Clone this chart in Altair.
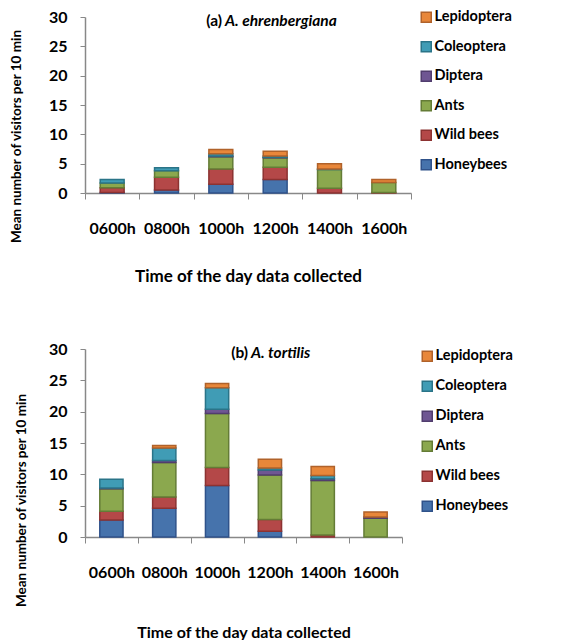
import altair as alt
import pandas as pd

times = ["0600h", "0800h", "1000h", "1200h", "1400h", "1600h"]
groups = ["Honeybees", "Wild bees", "Ants", "Diptera", "Coleoptera", "Lepidoptera"]

# Panel (a) A. ehrenbergiana
a_honeybees = [0.1, 0.5, 1.5, 2.3, 0.0, 0.0]
a_wildbees = [0.8, 2.2, 2.6, 2.1, 0.8, 0.1]
a_ants = [0.8, 1.1, 2.1, 1.6, 3.2, 1.7]
a_diptera = [0.0, 0.0, 0.1, 0.1, 0.0, 0.0]
a_coleoptera = [0.6, 0.5, 0.4, 0.2, 0.1, 0.0]
a_lepidoptera = [0.0, 0.0, 0.7, 0.8, 0.9, 0.5]

# Panel (b) A. tortilis
b_honeybees = [2.7, 4.6, 8.2, 0.9, 0.0, 0.0]
b_wildbees = [1.4, 1.8, 2.9, 1.9, 0.3, 0.0]
b_ants = [3.6, 5.5, 8.6, 7.1, 8.7, 3.0]
b_diptera = [0.1, 0.3, 0.7, 0.8, 0.3, 0.2]
b_coleoptera = [1.4, 2.0, 3.4, 0.3, 0.5, 0.0]
b_lepidoptera = [0.0, 0.4, 0.7, 1.4, 1.45, 0.8]

fills = ["#4673AC", "#B44848", "#8BA84E", "#6F5693", "#409CB5", "#E8873A"]
strokes = ["#2F528A", "#8C3231", "#647C36", "#513D6E", "#2A7488", "#B0622A"]

FONT = "Lato"


def make_df(series):
    rows = []
    for gi, (g, vals) in enumerate(zip(groups, series)):
        for t, v in zip(times, vals):
            if v > 0:
                rows.append({"Time": t, "Group": g, "Value": v, "Order": gi})
    return pd.DataFrame(rows)


def panel(series, label, species, width, height, split_x, title_x, title_y,
          title_pad, title_size, legend_x, legend_y, row_pad):
    df = make_df(series)
    legend_domain = list(reversed(groups))
    bars = alt.Chart(df).mark_bar(
        width=alt.RelativeBandSize(0.44), strokeWidth=1.5
    ).encode(
        x=alt.X("Time:N", sort=times,
                scale=alt.Scale(paddingInner=0, paddingOuter=0),
                axis=alt.Axis(tickBand="extent", tickSize=6, labelAngle=0,
                              labelPadding=21, labelFontSize=16,
                              labelFontWeight="bold", labelColor="#000",
                              title="Time of the day data collected",
                              titleFontSize=title_size, titleFontWeight="bold",
                              titlePadding=title_pad)),
        y=alt.Y("sum(Value):Q", stack="zero",
                scale=alt.Scale(domain=[0, 30], nice=False),
                axis=alt.Axis(values=[0, 5, 10, 15, 20, 25, 30], tickSize=5,
                              labelFontSize=16, labelFontWeight="bold",
                              labelColor="#000", labelPadding=13,
                              title="Mean number of visitors per 10 min",
                              titleFontSize=13.5, titleFontWeight="bold",
                              titleX=title_x, titleY=title_y)),
        color=alt.Color("Group:N",
                        scale=alt.Scale(domain=groups, range=fills),
                        sort=legend_domain,
                        legend=alt.Legend(orient="none", legendX=legend_x,
                                          legendY=legend_y, title=None,
                                          symbolType="square", symbolSize=100,
                                          symbolStrokeWidth=1.5,
                                          labelFontSize=14.5,
                                          labelFontWeight="bold",
                                          labelColor="#000",
                                          rowPadding=row_pad, padding=0,
                                          labelOffset=1,
                                          values=legend_domain)),
        stroke=alt.Stroke("Group:N",
                          scale=alt.Scale(domain=groups, range=strokes),
                          legend=None),
        order=alt.Order("Order:Q", sort="ascending"),
    )
    t1 = alt.Chart(alt.Data(values=[{}])).mark_text(
        text=label, align="right", baseline="middle", font=FONT,
        fontSize=15.5, fontWeight="bold", color="#000"
    ).encode(x=alt.value(split_x), y=alt.value(4))
    t2 = alt.Chart(alt.Data(values=[{}])).mark_text(
        text=species, align="left", baseline="middle", font=FONT,
        fontSize=15.5, fontWeight="bold", fontStyle="italic", color="#000"
    ).encode(x=alt.value(split_x + 3), y=alt.value(4))
    return alt.layer(bars, t1, t2).properties(width=width, height=height)


pa = panel([a_honeybees, a_wildbees, a_ants, a_diptera, a_coleoptera, a_lepidoptera],
           "(a)", "A. ehrenbergiana", 326, 176, 137, -62, 119, 32, 17,
           334, -7, 12.5)
pb = panel([b_honeybees, b_wildbees, b_ants, b_diptera, b_coleoptera, b_lepidoptera],
           "(b)", "A. tortilis", 317, 188, 163, -57, 151, 44, 16,
           335, 0, 13)

chart = alt.vconcat(pa, pb, spacing=57).resolve_scale(
    color="independent", stroke="independent"
).properties(
    padding={"left": 0, "top": 1, "right": 0, "bottom": 0}
).configure(
    font=FONT
).configure_axis(
    domainColor="#888888", tickColor="#888888", grid=False,
    labelFont=FONT, titleFont=FONT, domainWidth=1.5
).configure_legend(
    labelFont=FONT
).configure_view(
    stroke=None
)

chart.save("out.html", embed_options={"renderer": "svg", "actions": False})
